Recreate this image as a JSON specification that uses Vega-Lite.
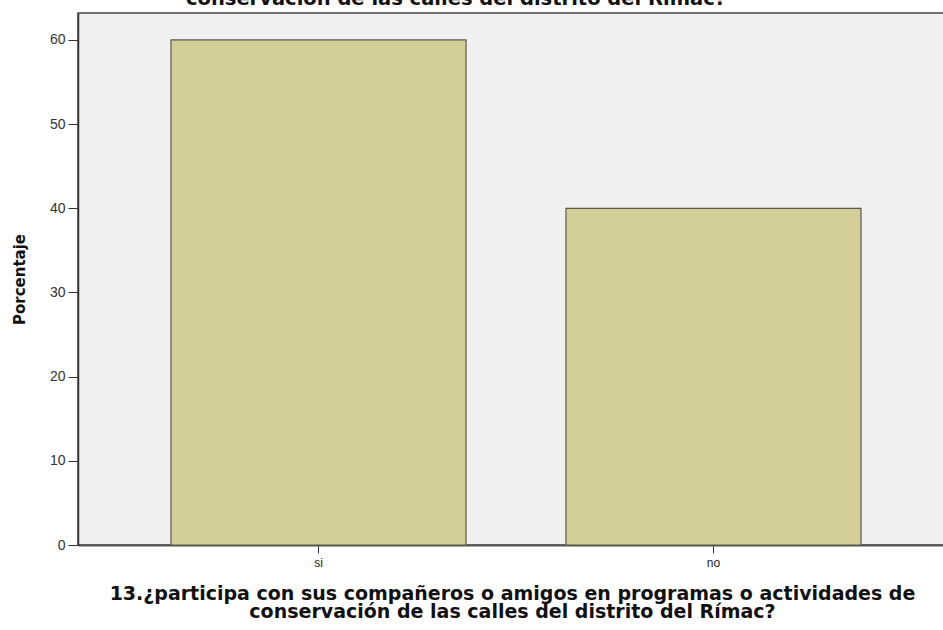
{
  "$schema": "https://vega.github.io/schema/vega-lite/v6.json",
  "width": 876,
  "height": 532,
  "autosize": {"type": "none"},
  "padding": {"left": 78, "top": 13, "right": 0, "bottom": 85},
  "background": "white",
  "view": {"fill": "#f0f0f0", "stroke": "#444444", "strokeWidth": 1.5},
  "title": {
    "text": "conservación de las calles del distrito del Rímac?",
    "font": "DejaVu Sans",
    "fontSize": 19.5,
    "fontWeight": "bold",
    "color": "#111111",
    "anchor": "middle",
    "offset": 4,
    "dx": -60
  },
  "data": {"values": [
    {"respuesta": "si", "porcentaje": 60},
    {"respuesta": "no", "porcentaje": 40}
  ]},
  "mark": {"type": "bar", "fill": "#d3ce98", "stroke": "#5b5a48", "strokeWidth": 1.2},
  "encoding": {
    "x": {
      "field": "respuesta",
      "type": "nominal",
      "sort": ["si", "no"],
      "scale": {"paddingInner": 0.253, "paddingOuter": 0.2354},
      "axis": {
        "title": ["13.¿participa con sus compañeros o amigos en programas o actividades de", "conservación de las calles del distrito del Rímac?"],
        "titleFont": "DejaVu Sans",
        "titleFontSize": 19,
        "titleFontWeight": "bold",
        "titleColor": "#111111",
        "titleLineHeight": 18,
        "titlePadding": 16,
        "titleX": 434,
        "labelAngle": 0,
        "labelFont": "Liberation Sans",
        "labelFontSize": 12,
        "labelColor": "#222222",
        "labelPadding": 4,
        "tickColor": "#333333",
        "tickSize": 8,
        "domainColor": "#555555",
        "domainWidth": 2
      }
    },
    "y": {
      "field": "porcentaje",
      "type": "quantitative",
      "scale": {"domain": [0, 63.2], "nice": false},
      "axis": {
        "title": "Porcentaje",
        "values": [0, 10, 20, 30, 40, 50, 60],
        "grid": false,
        "titleFont": "DejaVu Sans",
        "titleFontSize": 15,
        "titleFontWeight": "bold",
        "titleColor": "#111111",
        "titlePadding": 22,
        "labelFont": "Liberation Sans",
        "labelFontSize": 14,
        "labelColor": "#333333",
        "labelPadding": 3,
        "tickColor": "#333333",
        "tickSize": 10,
        "domainColor": "#333333",
        "domainWidth": 1.5
      }
    }
  }
}
